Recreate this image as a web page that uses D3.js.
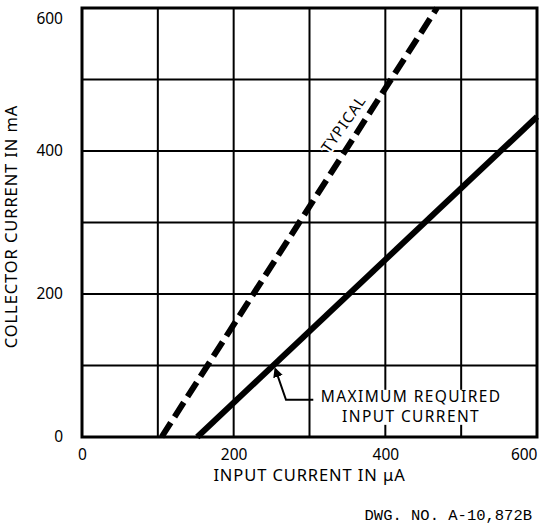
<!DOCTYPE html>
<html>
<head>
<meta charset="utf-8">
<script src="https://cdn.jsdelivr.net/npm/d3@7"></script>
<style>
  body { margin: 0; background: #fff; }
  svg { display: block; }
  text { font-family: "Noto Sans", "DejaVu Sans", sans-serif; fill: #000; }
</style>
</head>
<body>
<div id="chart"></div>
<script>
// axis ticks
var xTicks = [0, 200, 400, 600],
    yTicks = [0, 200, 400, 600],
    gridX = [100, 200, 300, 400, 500],
    gridY = [100, 200, 300, 400, 500];

// the two curves (input uA -> collector mA)
var typicalX = [105, 468],
    typicalY = [0, 600],
    maxReqX = [152, 600],
    maxReqY = [0, 448];

var W = 539, H = 527,
    margin = {left: 82, right: 2, top: 8, bottom: 90};

var svg = d3.select("#chart").append("svg")
    .attr("width", W)
    .attr("height", H);

var x = d3.scaleLinear().domain([0, 600]).range([margin.left, W - margin.right]);
var y = d3.scaleLinear().domain([0, 600]).range([H - margin.bottom, margin.top]);

// grid
svg.append("g").selectAll("line.gx")
    .data(gridX).enter().append("line")
    .attr("x1", function(d){return x(d);})
    .attr("x2", function(d){return x(d);})
    .attr("y1", y(0)).attr("y2", y(600))
    .attr("stroke", "#000").attr("stroke-width", 2);
svg.append("g").selectAll("line.gy")
    .data(gridY).enter().append("line")
    .attr("y1", function(d){return y(d);})
    .attr("y2", function(d){return y(d);})
    .attr("x1", x(0)).attr("x2", x(600))
    .attr("stroke", "#000").attr("stroke-width", 2);

// frame
svg.append("rect")
    .attr("x", x(0)).attr("y", y(600))
    .attr("width", x(600) - x(0))
    .attr("height", y(0) - y(600))
    .attr("fill", "none")
    .attr("stroke", "#000")
    .attr("stroke-width", 3);

// axes (labels only)
var xAxis = svg.append("g")
    .attr("transform", "translate(0," + y(0) + ")")
    .call(d3.axisBottom(x).tickValues(xTicks).tickSize(0).tickPadding(12).tickFormat(d3.format("d")));
var yAxis = svg.append("g")
    .attr("transform", "translate(" + x(0) + ",0)")
    .call(d3.axisLeft(y).tickValues(yTicks).tickSize(0).tickPadding(19).tickFormat(d3.format("d")));
[xAxis, yAxis].forEach(function(a){
    a.select(".domain").remove();
    a.selectAll("text").style("font-size", "15.5px").attr("font-family", null);
});
xAxis.selectAll(".tick").filter(function(d){return d === 600;}).select("text")
    .attr("text-anchor", "end").attr("dx", 0);
yAxis.selectAll(".tick").filter(function(d){return d === 600;}).select("text").attr("dy", "1.0em");

// curves
var line = d3.line().x(function(d){return x(d[0]);}).y(function(d){return y(d[1]);});

svg.append("path")
    .datum(d3.zip(maxReqX, maxReqY))
    .attr("d", line)
    .attr("fill", "none")
    .attr("stroke", "#000")
    .attr("stroke-width", 6);

svg.append("path")
    .datum(d3.zip(typicalX, typicalY))
    .attr("d", line)
    .attr("fill", "none")
    .attr("stroke", "#000")
    .attr("stroke-width", 6)
    .attr("stroke-dasharray", "17,7");

// axis titles
svg.append("text")
    .attr("x", (x(0) + x(600)) / 2)
    .attr("y", 481)
    .attr("text-anchor", "middle")
    .style("font-size", "16.5px")
    .style("letter-spacing", "0.9px")
    .text("INPUT CURRENT IN \u03bcA");

svg.append("text")
    .attr("transform", "translate(17," + ((y(0) + y(600)) / 2 + 4) + ") rotate(-90)")
    .attr("text-anchor", "middle")
    .style("font-size", "16.5px")
    .style("letter-spacing", "0.9px")
    .text("COLLECTOR CURRENT IN mA");

// TYPICAL label
svg.append("text")
    .attr("transform", "translate(" + x(345) + "," + y(438) + ") rotate(-55)")
    .attr("text-anchor", "middle")
    .attr("dy", "0.35em")
    .style("font-size", "15px")
    .style("letter-spacing", "1px")
    .attr("stroke", "#fff")
    .attr("stroke-width", 4)
    .attr("paint-order", "stroke")
    .text("TYPICAL");

// MAXIMUM REQUIRED INPUT CURRENT note
svg.append("rect")
    .attr("x", x(305)).attr("y", y(66))
    .attr("width", x(565) - x(305))
    .attr("height", y(17) - y(66))
    .attr("fill", "#fff");
var note = svg.append("text")
    .attr("text-anchor", "middle")
    .style("font-size", "15.5px")
    .style("letter-spacing", "1.4px");
note.append("tspan").attr("x", x(434)).attr("y", y(49)).text("MAXIMUM REQUIRED");
note.append("tspan").attr("x", x(434)).attr("y", y(21)).text("INPUT CURRENT");

svg.append("defs").append("marker")
    .attr("id", "arr")
    .attr("viewBox", "0 0 10 10")
    .attr("refX", 8).attr("refY", 5)
    .attr("markerWidth", 5).attr("markerHeight", 5)
    .attr("orient", "auto")
    .append("path").attr("d", "M0,0L10,5L0,10Z").attr("fill", "#000");

svg.append("path")
    .datum([[305, 52], [269, 52], [255, 95]])
    .attr("d", line)
    .attr("fill", "none")
    .attr("stroke", "#000")
    .attr("stroke-width", 2)
    .attr("marker-end", "url(#arr)");

// drawing number
svg.append("text")
    .attr("x", 532)
    .attr("y", 520)
    .attr("text-anchor", "end")
    .style("font-family", "'Liberation Mono', 'DejaVu Sans Mono', monospace")
    .style("font-size", "15.5px")
    .text("DWG. NO. A-10,872B");
</script>
</body>
</html>
